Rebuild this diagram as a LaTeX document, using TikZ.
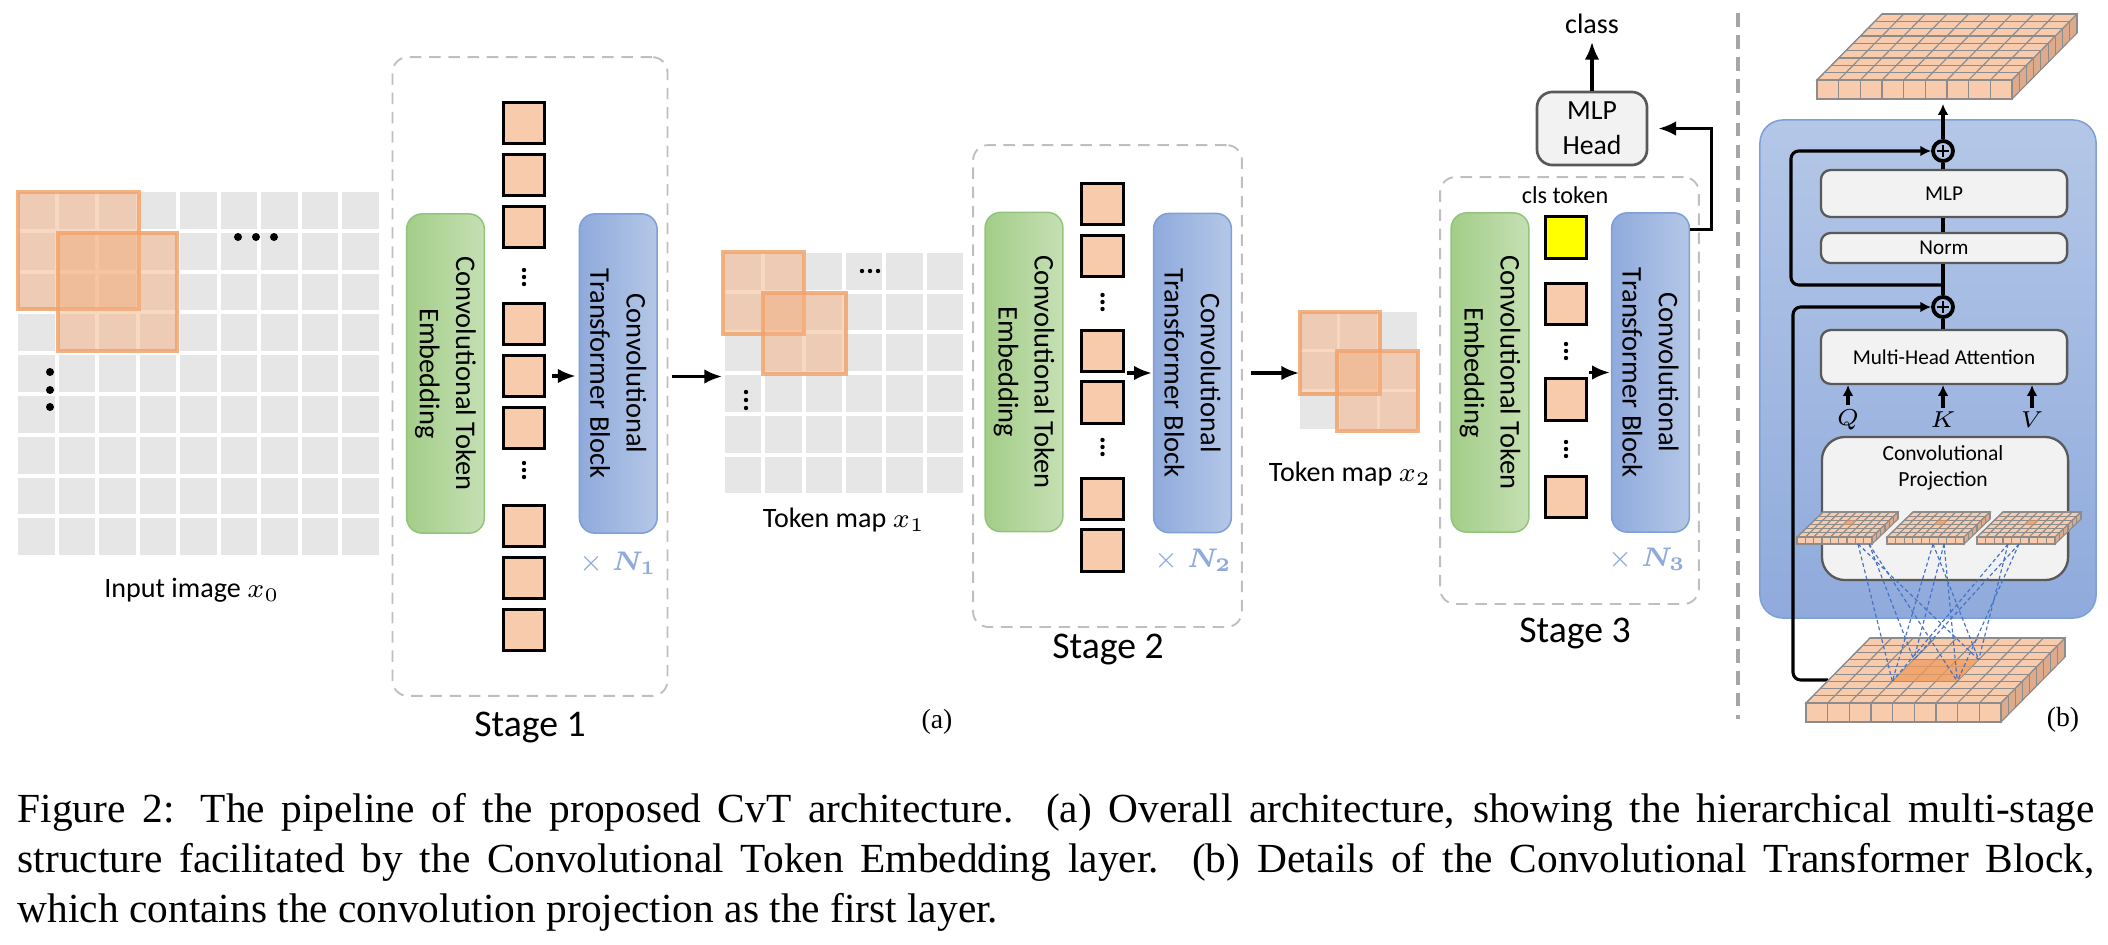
\documentclass[tikz,border=0pt]{standalone}
\usepackage{fontspec}
\setmainfont{Carlito}
\newfontfamily\capfont{Liberation Serif}
\usepackage{amsmath}
\usepackage{amssymb}
\usepackage{tikz}
\usetikzlibrary{calc}
\usetikzlibrary{arrows.meta}

\definecolor{cellgray}{HTML}{E6E6E6}
\definecolor{patchor}{HTML}{F4B183}
\definecolor{patchedge}{HTML}{F0A46E}
\definecolor{tokfill}{HTML}{F8CBAD}
\definecolor{embA}{HTML}{A3CD88}
\definecolor{embB}{HTML}{C5E0B4}
\definecolor{embedge}{HTML}{93C47D}
\definecolor{ctbA}{HTML}{8FAADC}
\definecolor{ctbB}{HTML}{B4C7E7}
\definecolor{ctbedge}{HTML}{7F9FD6}
\definecolor{repblue}{HTML}{8FAADC}
\definecolor{stagegray}{HTML}{BFBFBF}
\definecolor{boxgray}{HTML}{F2F2F2}
\definecolor{boxedge}{HTML}{595959}
\definecolor{slabedge}{HTML}{8C8C8C}
\definecolor{slabsidec}{HTML}{DDAA8B}
\definecolor{hotcell}{HTML}{F09A5C}
\definecolor{kernline}{HTML}{4472C4}
\definecolor{sepgray}{HTML}{A6A6A6}
\definecolor{clsyellow}{HTML}{FFFF00}

\tikzset{
  gridcell/.style={fill=cellgray},
  patch/.style={fill=patchor, fill opacity=0.5, draw=patchedge, draw opacity=0.85, line width=0.8pt},
  dotmark/.style={fill=black},
  token/.style={draw=black, line width=0.7pt, fill=tokfill, minimum width=10.8pt, minimum height=10.8pt, inner sep=0pt},
  stagebox/.style={draw=stagegray, line width=0.5pt, dash pattern=on 3pt off 2pt, rounded corners=4pt, inner sep=0pt},
  embbox/.style={draw=embedge, line width=0.4pt, left color=embA, right color=embB, rounded corners=4pt, minimum width=20.2pt, minimum height=83pt, inner sep=0pt},
  ctbbox/.style={draw=ctbedge, line width=0.4pt, left color=ctbA, right color=ctbB, rounded corners=4pt, minimum width=20.2pt, minimum height=83pt, inner sep=0pt},
  vtext/.style={rotate=-90, align=center, font=\fontsize{7.4}{9.4}\selectfont},
  maptext/.style={font=\fontsize{7.3}{8.5}\selectfont},
  smalltext/.style={font=\fontsize{6.3}{7.5}\selectfont},
  stagetext/.style={font=\fontsize{9.8}{11}\selectfont},
  reptext/.style={text=repblue, font=\fontsize{7.4}{8.5}\selectfont},
  headbox/.style={draw=boxedge, line width=0.7pt, fill=boxgray, rounded corners=4pt, minimum width=28.6pt, minimum height=19pt, inner sep=0pt, align=center, font=\fontsize{7.2}{9.1}\selectfont},
  flow/.style={line width=0.8pt, -{Latex[length=4.6pt,width=3.8pt]}},
  flowsmall/.style={line width=0.8pt, -{Latex[length=2.8pt,width=2.8pt]}},
  thickline/.style={line width=0.8pt},
  graybox/.style={draw=boxedge, line width=0.6pt, fill=boxgray, rounded corners=2.5pt, minimum width=64pt, inner sep=0pt, font=\fontsize{5.5}{6.5}\selectfont},
  boxtext/.style={font=\fontsize{5.6}{6.8}\selectfont},
  qkvtext/.style={inner sep=1pt, font=\fontsize{6}{7}\selectfont},
  bigblock/.style={draw=ctbedge, line width=0.4pt, top color=ctbB, bottom color=ctbA, rounded corners=6pt, minimum width=87.4pt, minimum height=129.5pt, inner sep=0pt},
  oplus/.style={circle, draw, line width=1pt, minimum size=5.2pt, inner sep=0pt,
    path picture={\draw[line width=0.6pt] ([xshift=-1.6pt]path picture bounding box.center) -- ([xshift=1.6pt]path picture bounding box.center)
      ([yshift=-1.6pt]path picture bounding box.center) -- ([yshift=1.6pt]path picture bounding box.center);}},
  kernel/.style={draw=kernline, line width=0.3pt, dash pattern=on 1pt off 0.7pt},
  slabtop/.style={fill=tokfill, draw=slabedge, line width=0.3pt},
  slabside/.style={fill=slabsidec, draw=slabedge, line width=0.3pt},
  slabline/.style={draw=slabedge, line width=0.3pt},
  sepline/.style={draw=sepgray, line width=1pt, dash pattern=on 3.6pt off 2.1pt},
  panellbl/.style={font=\capfont\fontsize{7.2}{8}\selectfont},
}

% front top-left x, y, width, thickness, depth dx, depth dy, columns, rows
\newcommand{\slab}[8]{%
  \filldraw[slabtop] (#1,#2) -- ++(#3,0) -- ++(#5,#6) -- ++({-1*(#3)},0) -- cycle;
  \filldraw[slabtop] (#1,#2) rectangle ++(#3,#4);
  \filldraw[slabside] ({#1+#3},#2) -- ++(#5,#6) -- ++(0,#4) -- ++({-1*(#5)},{-1*(#6)}) -- cycle;
  \foreach \i in {1,...,#7}{%
    \draw[slabline] ({#1+\i*#3/#7},#2) -- ++(0,#4);
    \draw[slabline] ({#1+(\i-1)*#3/#7},#2) -- ++(#5,#6);
  }
  \foreach \j in {1,...,#8}{%
    \draw[slabline] ({#1+\j*#5/#8},{#2+\j*#6/#8}) -- ++(#3,0);
    \draw[slabline] ({#1+#3+\j*#5/#8},{#2+\j*#6/#8}) -- ++(0,#4);
  }
}

\begin{document}
\begin{tikzpicture}[x=0.26pt, y=-0.26pt]
\useasboundingbox (0,0) rectangle (2108,944);

% Drawing input image x0
\foreach \i in {0,...,8}{\foreach \j in {0,...,8}{\fill[gridcell] ({18+40.5*\i},{192+40.8*\j}) rectangle ++(36.5,36.8);}}
\draw[patch] (18,192) rectangle ++(121,117);
\draw[patch] (58,233) rectangle ++(119,118);
\foreach \x in {238,256,274} \fill[dotmark] (\x,237) circle[radius=4];
\foreach \y in {372,390,407} \fill[dotmark] (50,\y) circle[radius=4];
\node[maptext] (inlbl) at (192,590) {Input image $x_0$};

% Drawing stage 1
\node[stagebox, minimum width=71.5pt, minimum height=166.1pt] (s1) at (530,376.5) {};
\node[embbox] (emb1) at (445.5,373.5) {};
\node[vtext] (emb1txt) at (emb1) {Convolutional Token\\Embedding};
\foreach \n/\y in {1/123,2/175,3/227,4/324,5/376,6/428,7/526,8/578,9/630} \node[token] (t1\n) at (524,\y) {};
\foreach \y in {277,470} {\foreach \d in {-7,0,7} \fill[dotmark] (524,{\y+\d}) circle[radius=2.2];}
\node[ctbbox] (ctb1) at (618.25,373.5) {};
\node[vtext] (ctb1txt) at (ctb1) {Convolutional\\Transformer Block};
\node[reptext] (rep1) at (618,563) {$\times\;\boldsymbol{N_1}$};
\node[stagetext] (s1lbl) at (530,727) {Stage 1};
\draw[flow, shorten <=1.5pt, shorten >=0.8pt] (t15.east) -- (t15.east -| ctb1.west);

% Drawing arrow to token map x1
\coordinate (tm1w) at (722,376.5);
\draw[flow, shorten <=0.9pt] (s1.east) -- (tm1w);

% Drawing token map x1
\foreach \i in {0,...,5}{\foreach \j in {0,...,5}{\fill[gridcell] ({725+40.3*\i},{253+40.7*\j}) rectangle ++(36.3,36.7);}}
\draw[patch] (723,252) rectangle ++(81,82);
\draw[patch] (763,293) rectangle ++(83,81);
\foreach \x in {862,870,878} \fill[dotmark] (\x,271) circle[radius=2.2];
\foreach \y in {392,400,408} \fill[dotmark] (746,\y) circle[radius=2.2];
\node[maptext] (tm1lbl) at (844,520) {Token map $x_1$};

% Drawing stage 2
\node[stagebox, minimum width=69.9pt, minimum height=125.3pt] (s2) at (1107.5,386) {};
\node[embbox] (emb2) at (1024,372) {};
\node[vtext] (emb2txt) at (emb2) {Convolutional Token\\Embedding};
\foreach \n/\y in {1/204,2/256,3/351,4/402.5,5/499,6/550.5} \node[token] (t2\n) at (1102.5,\y) {};
\foreach \y in {302,447} {\foreach \d in {-7,0,7} \fill[dotmark] (1102.5,{\y+\d}) circle[radius=2.2];}
\node[ctbbox] (ctb2) at (1192.5,373) {};
\node[vtext] (ctb2txt) at (ctb2) {Convolutional\\Transformer Block};
\node[reptext] (rep2) at (1193,560) {$\times\;\boldsymbol{N_2}$};
\node[stagetext] (s2lbl) at (1108,649) {Stage 2};
\draw[flow, shorten <=0.5pt, shorten >=0.3pt] (ctb2.west -| t23.east) -- (ctb2.west);

% Drawing arrow to token map x2
\coordinate (tm2w) at (1299,373);
\draw[flow, shorten <=2pt] (ctb2.east -| s2.east) -- (tm2w);

% Drawing token map x2
\foreach \i in {0,1,2}{\foreach \j in {0,1,2}{\fill[gridcell] ({1300+40*\i},{312+40*\j}) rectangle ++(37,37);}}
\draw[patch] (1300,312) rectangle ++(80,82);
\draw[patch] (1337,351) rectangle ++(81,80);
\node[maptext] (tm2lbl) at (1350,474) {Token map $x_2$};

% Drawing stage 3
\node[stagebox, minimum width=67.3pt, minimum height=111pt] (s3) at (1569.5,390.5) {};
\node[smalltext] (clslbl) at (1565,195) {cls token};
\node[embbox] (emb3) at (1490,372.5) {};
\node[vtext] (emb3txt) at (emb3) {Convolutional Token\\Embedding};
\node[token, fill=clsyellow] (cls) at (1566,237.5) {};
\foreach \n/\y in {1/304,2/399.5,3/497} \node[token] (t3\n) at (1566,\y) {};
\foreach \y in {351,449} {\foreach \d in {-7,0,7} \fill[dotmark] (1566,{\y+\d}) circle[radius=2.2];}
\node[ctbbox] (ctb3) at (1650.5,372.5) {};
\node[vtext] (ctb3txt) at (ctb3) {Convolutional\\Transformer Block};
\node[reptext] (rep3) at (1647,559) {$\times\;\boldsymbol{N_3}$};
\node[stagetext] (s3lbl) at (1575,633) {Stage 3};
\draw[flow, shorten <=0.3pt, shorten >=0.3pt] (ctb3.west -| t31.east) -- (ctb3.west);

% Drawing classification head
\node[headbox] (head) at (1592,128.5) {MLP\\Head};
\node[maptext, inner sep=1pt] (clsout) at (1592,24) {class};
\draw[flow, shorten >=0.9pt] (head.north) -- (clsout.south);
\draw[flow, shorten >=2.6pt] ([yshift=-4.4pt]ctb3.north east) -- ++(21,0) |- (head.east);

% Drawing separator
\draw[sepline] (1738,13) -- (1738,719);

% Drawing transformer block (b)
\slab{1817}{80}{195}{19}{65}{-66}{9}{9}
\node[bigblock] (blk) at (1928,369) {};
\node[graybox, minimum height=12.2pt] (mlp) at (1944,193.5) {MLP};
\node[graybox, minimum height=7.8pt] (norm) at (1944,248) {Norm};
\node[graybox, minimum height=14pt] (mha) at (1944,357) {Multi-Head Attention};
\node[graybox, minimum height=37.2pt, rounded corners=6pt] (proj) at (1945,508.5) {};
\node[boxtext, align=center] (projtxt) at (1943,468) {Convolutional\\Projection};
\node[oplus] (plus1) at (1943,151) {};
\node[oplus] (plus2) at (1943,307) {};
\coordinate (outS) at (1943,104);
\coordinate (jn) at (1943,285);
\coordinate (skipin) at (1828,680);
\draw[thickline] (plus2.south |- mha.north) -- (plus2.south);
\draw[thickline] (plus2.north) -- (plus2.north |- norm.south);
\draw[thickline] (plus2.north |- norm.north) -- (plus2.north |- mlp.south);
\draw[thickline] (plus1.south |- mlp.north) -- (plus1.south);
\draw[flowsmall] (plus1.north) -- (outS);
\draw[flowsmall, rounded corners=2pt] (jn) -- ++(-152,0) |- (plus1.west);
\draw[flowsmall, rounded corners=2pt] (skipin) -- ++(-35,0) |- (plus2.west);
\foreach \x/\l/\n in {1848/Q/q,1943/K/k,2032/V/v} {
  \node[qkvtext] (\n) at (\x,420) {$\l$};
  \draw[flowsmall] (\n.north) -- (\n.north |- mha.south);
}

% Marking convolutional projections
\slab{1797}{537}{75}{7}{26}{-25}{9}{6}
\slab{1887}{537}{77}{7}{26}{-25}{9}{6}
\slab{1977}{537}{78}{7}{26}{-25}{9}{6}
\fill[hotcell, fill opacity=0.7] (1843.3,524.5) -- ++(8.33,0) -- ++(4.33,-4.17) -- ++(-8.33,0) -- cycle;
\fill[hotcell, fill opacity=0.7] (1934.2,524.5) -- ++(8.56,0) -- ++(4.33,-4.17) -- ++(-8.56,0) -- cycle;
\fill[hotcell, fill opacity=0.7] (2024.7,524.5) -- ++(8.67,0) -- ++(4.33,-4.17) -- ++(-8.67,0) -- cycle;

% Drawing input token map of the block
\slab{1806}{703}{195}{19}{64}{-65}{9}{9}
\coordinate (k33) at (1892.3,681.3);
\coordinate (k63) at (1957.3,681.3);
\coordinate (k66) at (1978.7,659.7);
\coordinate (k36) at (1913.7,659.7);
\fill[hotcell, fill opacity=0.75] (k33) -- (k63) -- (k66) -- (k36) -- cycle;
\foreach \sx in {1858,1933,2008} {
  \draw[kernel] (\sx,544) -- (k33);
  \draw[kernel] (\sx,544) -- (k66);
  \draw[kernel] ({\sx+11},544) -- (k63);
  \draw[kernel] ({\sx+11},544) -- (k36);
}

% Marking panels
\node[panellbl] (alabel) at (937,722) {(a)};
\node[panellbl] (blabel) at (2063,720) {(b)};

% Caption
\node[anchor=north west, inner sep=0pt, text width=540pt, align=justify, font=\capfont\fontsize{10.76}{12.9}\selectfont] (caption) at (17,793)
  {Figure 2: The pipeline of the proposed CvT architecture. (a) Overall architecture, showing the hierarchical multi-stage\linebreak structure facilitated by the Convolutional Token Embedding layer. (b) Details of the Convolutional Transformer Block,\linebreak which contains the convolution projection as the first layer.};
\end{tikzpicture}
\end{document}
